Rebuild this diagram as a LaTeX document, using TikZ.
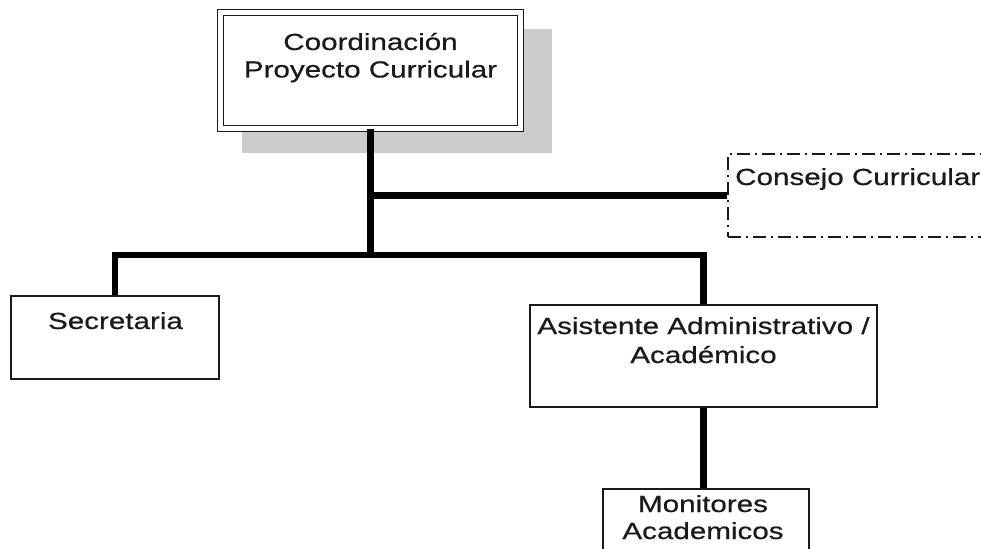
\documentclass[tikz,border=0pt]{standalone}
\usepackage{fontspec}
\setmainfont{Liberation Sans}[FakeStretch=1.27,FakeBold=0.6]
\definecolor{shadowgray}{HTML}{CCCCCC}
\definecolor{inkcol}{HTML}{1A1A1A}
\begin{document}
\begin{tikzpicture}[x=1pt,y=-1pt,
  box/.style={draw=inkcol,line width=1.6pt,rectangle,inner sep=0pt},
  conn/.style={line width=6.5pt,black},
  lbl/.style={inner sep=0pt,text=inkcol,font=\fontsize{23.3}{29}\selectfont},
]
\useasboundingbox (0,0) rectangle (981,548);
\clip (0,0) rectangle (981,548);
\fill[white] (0,0) rectangle (981,548);
% shadow of top box
\fill[shadowgray] (242,29) rectangle (552,153);
% boxes
\node[box,fill=white,double=white,double distance=4.5pt,line width=1.5pt,
  minimum width=300pt,minimum height=116pt] (top) at (370.5,70.5) {};
\node[box,dash pattern=on 13pt off 5pt on 2pt off 5pt,line width=1.6pt,
  minimum width=282pt,minimum height=83pt] (cons) at (869,195.5) {};
\node[box,minimum width=208pt,minimum height=83pt] (sec) at (115,337.5) {};
\node[box,minimum width=347pt,minimum height=102pt] (asist) at (703.5,356) {};
\node[box,minimum width=206pt,minimum height=82pt] (mon) at (706,530) {};
% texts
\node[lbl,anchor=base] (t1a) at (370.5,50) {Coordinación};
\node[lbl,anchor=base] (t1b) at (370.5,77.5) {Proyecto Curricular};
\node[lbl,anchor=base west] (t2) at (735,185) {Consejo Curricular};
\node[lbl,anchor=base] (t3) at (115.5,329) {Secretaria};
\node[lbl,anchor=base] (t4a) at (703.5,334) {Asistente Administrativo /};
\node[lbl,anchor=base] (t4b) at (703.5,363) {Académico};
\node[lbl,anchor=base] (t5a) at (703,512) {Monitores};
\node[lbl,anchor=base] (t5b) at (703,539) {Academicos};
% connectors
\coordinate (j1) at (370.5,195.5);
\coordinate (j2) at (370.5,255);
\draw[conn] (top.south) -- (j2);
\draw[conn] (j1) -- (cons.west);
\draw[conn] (sec.north) -- (sec.north |- j2) -- (asist.north |- j2) -- (asist.north);
\draw[conn] (asist.south) -- (asist.south |- mon.north);
\end{tikzpicture}
\end{document}
